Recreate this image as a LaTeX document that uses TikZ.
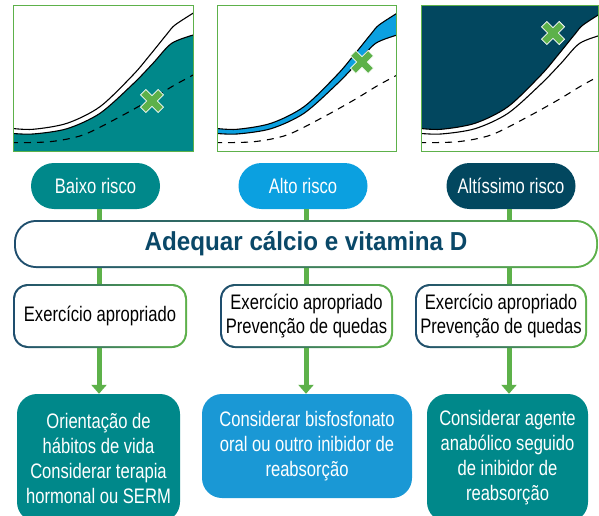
\documentclass[tikz,border=0pt]{standalone}
\usepackage{fontspec}
\setmainfont{Liberation Sans}[FakeStretch=0.79]
\newfontfamily\titlefont{Liberation Sans}[FakeStretch=0.93]
\usetikzlibrary{arrows.meta}
\definecolor{cteal}{HTML}{00888A}
\definecolor{cblue}{HTML}{0BA0E0}
\definecolor{cbox}{HTML}{1A98D5}
\definecolor{cnavy}{HTML}{02475F}
\definecolor{cgreen}{HTML}{5DB14A}
\definecolor{ctitle}{HTML}{0A4868}
\definecolor{gnavy}{HTML}{1E4D6E}
\definecolor{gblue}{HTML}{1E9AD6}
\tikzset{
  gradbox/.style 2 args={rounded corners=#1, fill=white, path picture={
    \shade[left color=gnavy, middle color=gblue, right color=cgreen]
      (path picture bounding box.south west) rectangle (path picture bounding box.north east);
    \fill[white, rounded corners=#2]
      ([shift={(2pt,2pt)}]path picture bounding box.south west) rectangle
      ([shift={(-2pt,-2pt)}]path picture bounding box.north east);
  }},
  pill/.style={rounded corners=23pt, minimum width=129pt, minimum height=46pt,
    text=white, inner sep=0pt, font=\fontsize{21}{24}\selectfont},
  midbox/.style={gradbox={15pt}{13pt}, minimum height=64pt, inner sep=0pt,
    align=center, text=black, font=\fontsize{21}{24}\selectfont},
  botbox/.style={rounded corners=20pt, inner sep=0pt, text=white, align=center,
    font=\fontsize{21}{25}\selectfont},
  gline/.style={draw=cgreen, line width=5pt},
  garrow/.style={draw=cgreen, line width=5pt, -{Triangle[width=15pt,length=9pt]}},
  curve/.style={draw=black, line width=1.1pt},
  dcurve/.style={draw=black, line width=1.1pt, dash pattern=on 7pt off 6pt},
  pbox/.style={draw=cgreen, line width=1pt},
  xmark/.pic={
    \path[fill=cgreen, draw=white, line width=0.8pt, rotate=45]
      (-3.8,-12.5) -- (3.8,-12.5) -- (3.8,-3.8) -- (12.5,-3.8) -- (12.5,3.8) -- (3.8,3.8)
      -- (3.8,12.5) -- (-3.8,12.5) -- (-3.8,3.8) -- (-12.5,3.8) -- (-12.5,-3.8) -- (-3.8,-3.8) -- cycle;
  }
}
\begin{document}
\begin{tikzpicture}[x=1pt,y=-1pt]
\useasboundingbox (0,0) rectangle (599,516);
\clip (0,0) rectangle (599,516);

% ---------- Panel 1 ----------
\begin{scope}[shift={(13,6)}]
  \begin{scope}
    \clip (0,0) rectangle (180,145);
    \fill[cteal] plot[smooth] coordinates {(-2,127.3) (20,128) (54,122.7) (87,107.3) (120,78) (140,57.3) (158.7,37.3) (182,28.5)}
      -- (182,150) -- (-2,150) -- cycle;
    \path[curve] plot[smooth] coordinates {(-2,122.3) (20,123.3) (54,117.3) (87,100.7) (120,69) (137,49) (154,28) (162,19) (182,6)};
    \path[curve] plot[smooth] coordinates {(-2,127.3) (20,128) (54,122.7) (87,107.3) (120,78) (140,57.3) (158.7,37.3) (182,28.5)};
    \path[dcurve] plot[smooth] coordinates {(-2,136.7) (37,135.7) (70,129) (104,112.3) (137,94) (160,80) (182,68)};
  \end{scope}
  \path[pbox] (0,0) rectangle (180,145);
  \pic at (139,95) {xmark};
\end{scope}

% ---------- Panel 2 ----------
\begin{scope}[shift={(217,6)}]
  \begin{scope}
    \clip (0,0) rectangle (179,145);
    \fill[cblue] plot[smooth] coordinates {(-2,122.3) (20,123.3) (54,117.3) (87,100.7) (120,69) (137,49) (154,28) (162,19) (182,6)}
      -- plot[smooth] coordinates {(182,28.5) (158.7,37.3) (140,57.3) (120,78) (87,107.3) (54,122.7) (20,128) (-2,127.3)} -- cycle;
    \path[curve] plot[smooth] coordinates {(-2,122.3) (20,123.3) (54,117.3) (87,100.7) (120,69) (137,49) (154,28) (162,19) (182,6)};
    \path[curve] plot[smooth] coordinates {(-2,127.3) (20,128) (54,122.7) (87,107.3) (120,78) (140,57.3) (158.7,37.3) (182,28.5)};
    \path[dcurve] plot[smooth] coordinates {(-2,136.7) (37,135.7) (70,129) (104,112.3) (137,94) (160,80) (182,68)};
  \end{scope}
  \path[pbox] (0,0) rectangle (179,145);
  \pic at (145,56) {xmark};
\end{scope}

% ---------- Panel 3 ----------
\begin{scope}[shift={(421,6)}]
  \begin{scope}
    \clip (0,0) rectangle (177,145);
    \fill[cnavy] plot[smooth] coordinates {(-2,122.3) (20,123.3) (54,117.3) (87,100.7) (120,69) (137,49) (154,28) (162,19) (182,6)}
      -- (182,-2) -- (-2,-2) -- cycle;
    \path[curve] plot[smooth] coordinates {(-2,122.3) (20,123.3) (54,117.3) (87,100.7) (120,69) (137,49) (154,28) (162,19) (182,6)};
    \path[curve] plot[smooth] coordinates {(-2,127.3) (20,128) (54,122.7) (87,107.3) (120,78) (140,57.3) (158.7,37.3) (182,28.5)};
    \path[dcurve] plot[smooth] coordinates {(-2,136.7) (37,135.7) (70,129) (104,112.3) (137,94) (160,80) (182,68)};
  \end{scope}
  \path[pbox] (0,0) rectangle (177,145);
  \pic at (132,27) {xmark};
\end{scope}

% ---------- Risk pills ----------
\node[pill, fill=cteal] (p1) at (95.5,186) {Baixo risco};
\node[pill, fill=cblue] (p2) at (303,186) {Alto risco};
\node[pill, fill=cnavy] (p3) at (511,186) {Altíssimo risco};

% ---------- Big box ----------
\node[gradbox={22pt}{20pt}, minimum width=584pt, minimum height=48pt, inner sep=0pt,
  text=ctitle, font=\titlefont\bfseries\fontsize{26}{30}\selectfont] (big) at (306,244)
  {Adequar cálcio e vitamina D};

% ---------- Middle boxes ----------
\node[midbox, minimum width=174pt] (m1) at (100,316) {Exercício apropriado};
\node[midbox, minimum width=173pt] (m2) at (306.5,316) {Exercício apropriado\\Prevenção de quedas};
\node[midbox, minimum width=172pt] (m3) at (501,316) {Exercício apropriado\\Prevenção de quedas};

% ---------- Bottom boxes ----------
\node[botbox, fill=cteal, minimum width=163pt, minimum height=128pt] (b1) at (98.5,458)
  {Orientação de\\hábitos de vida\\Considerar terapia\\hormonal ou SERM};
\node[botbox, fill=cbox, minimum width=210pt, minimum height=104pt] (b2) at (307,446)
  {Considerar bisfosfonato\\oral ou outro inibidor de\\reabsorção};
\node[botbox, fill=cteal, minimum width=161pt, minimum height=128pt] (b3) at (507.5,458)
  {Considerar agente\\anabólico seguido\\de inibidor de\\reabsorção};

% ---------- Connectors ----------
\coordinate (c1) at (99,0);
\coordinate (c2) at (306,0);
\coordinate (c3) at (509,0);
\draw[gline] (p1.south -| c1) -- (big.north -| c1);
\draw[gline] (p2.south -| c2) -- (big.north -| c2);
\draw[gline] (p3.south -| c3) -- (big.north -| c3);
\draw[gline] (big.south -| c1) -- (m1.north -| c1);
\draw[gline] (big.south -| c2) -- (m2.north -| c2);
\draw[gline] (big.south -| c3) -- (m3.north -| c3);
\draw[garrow] (m1.south -| c1) -- (b1.north -| c1);
\draw[garrow] (m2.south -| c2) -- (b2.north -| c2);
\draw[garrow] (m3.south -| c3) -- (b3.north -| c3);
\end{tikzpicture}
\end{document}
